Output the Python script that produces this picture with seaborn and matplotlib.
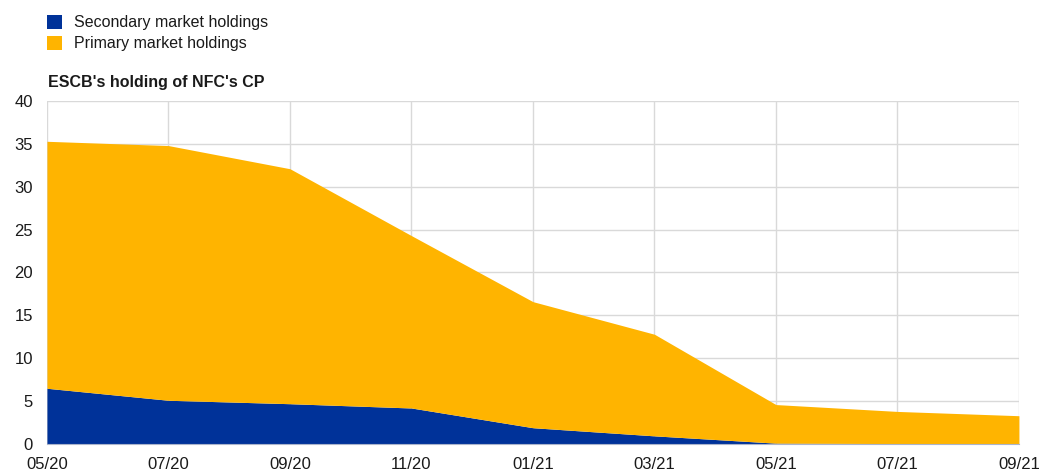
import pandas as pd
import matplotlib.pyplot as plt
import seaborn as sns

# values (EUR bn)
dates = ['05/20', '07/20', '09/20', '11/20', '01/21', '03/21', '05/21', '07/21', '09/21']
secondary = [6.5, 5.1, 4.7, 4.2, 1.9, 0.95, 0.1, 0.05, 0.05]
total = [35.3, 34.8, 32.1, 24.3, 16.6, 12.8, 4.6, 3.8, 3.3]
primary = [t - s for t, s in zip(total, secondary)]

df = pd.DataFrame({'date': dates, 'Secondary market holdings': secondary,
                   'Primary market holdings': primary})

sns.set_style('whitegrid')
plt.rcParams['font.family'] = ['Liberation Sans', 'DejaVu Sans']

fig = plt.figure(figsize=(10.41, 4.71), dpi=100)
ax = fig.add_axes([0.0451, 0.0573, 0.9337, 0.7283])

x = range(len(df))
ax.stackplot(x, df['Secondary market holdings'], df['Primary market holdings'],
             colors=['#003299', '#FFB400'],
             labels=['Secondary market holdings', 'Primary market holdings'],
             linewidth=0)

ax.set_xlim(0, len(df) - 1)
ax.set_ylim(0, 40)
ax.set_xticks(list(x))
ax.set_xticklabels(df['date'])
ax.set_yticks(range(0, 41, 5))
ax.tick_params(axis='both', labelsize=12, colors='#1a1a1a', length=0)
ax.tick_params(axis='x', pad=9)
ax.tick_params(axis='y', pad=10)
ax.grid(True, color='#d9d9d9', linewidth=1)
for side in ['top', 'right', 'left']:
    ax.spines[side].set_visible(False)
ax.spines['bottom'].set_color('#aab4cc')
ax.set_axisbelow(True)

fig.text(0.0461, 1 - 87.5 / 471, "ESCB's holding of NFC's CP", fontsize=11.5, fontweight='bold',
         color='#1a1a1a', ha='left', va='baseline')

ax.legend(loc='upper left', bbox_to_anchor=(47 / 1041, 1 - 15 / 471), bbox_transform=fig.transFigure,
          frameon=False, fontsize=11.5, handlelength=0.95, handleheight=0.95,
          handletextpad=0.75, labelspacing=0.35, borderaxespad=0, borderpad=0,
          labelcolor='#1a1a1a')

plt.savefig('out.png', dpi=100)
plt.close()
